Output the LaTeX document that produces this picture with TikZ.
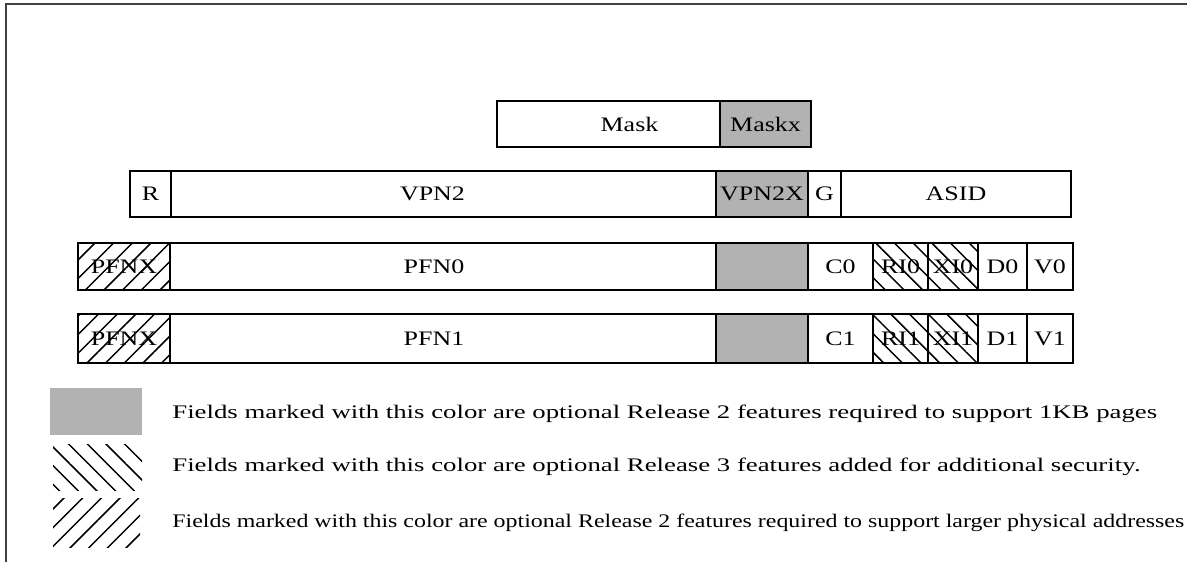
\documentclass[tikz,border=0pt]{standalone}
\usepackage{fontspec}
\setmainfont{Liberation Serif}
\newfontfamily\fieldfont[FakeStretch=1.26]{Liberation Serif}
\newfontfamily\notefont[FakeStretch=1.395]{Liberation Serif}
\newfontfamily\notefontnarrow[FakeStretch=1.245]{Liberation Serif}
\usetikzlibrary{patterns.meta}

\tikzset{
  w/.style={minimum width=#1*0.5pt},
  h/.style={minimum height=#1*0.5pt},
  field/.style={draw, line width=0.7pt, inner sep=0pt, outer sep=0pt, font=\fieldfont\fontsize{10.3}{12}\selectfont},
  opt/.style={fill=black!30},
  secure/.style={pattern={Lines[angle=-45,distance=6.6pt,line width=0.75pt]}},
  wide/.style={pattern={Lines[angle=45,distance=6.6pt,line width=0.75pt]}},
  note/.style={anchor=west, inner sep=0pt, font=\notefont\fontsize{9.6}{12}\selectfont},
}

\begin{document}
\begin{tikzpicture}[x=0.5pt,y=-0.5pt]
\useasboundingbox (0,0) rectangle (1187,562);
\draw[line width=1.1pt, black!75] (6,562) -- (6,4) -- (1187,4);

% PageMask
\node[field, w=223, h=46] (mask) at (608.5,124) {\hspace*{21pt}Mask};
\node[field, opt, w=91, h=46] (maskx) at (765.5,124) {Maskx};

% EntryHi
\node[field, w=41, h=46] (r) at (150.5,194) {R};
\node[field, w=545, h=46] (vpn2) at (443.5,194) {VPN2\hspace*{11pt}};
\node[field, opt, w=92, h=46] (vpn2x) at (762,194) {VPN2X};
\node[field, w=33, h=46] (g) at (824.5,194) {G};
\node[field, w=230, h=46] (asid) at (956,194) {ASID};

% EntryLo0
\node[field, wide, w=92, h=47] (pfnx0) at (124,266.5) {PFNX};
\node[field, w=546, h=47] (pfn0) at (443,266.5) {PFN0\hspace*{9pt}};
\node[field, opt, w=92, h=47] (pfnopt0) at (762,266.5) {};
\node[field, w=65, h=47] (c0) at (840.5,266.5) {C0};
\node[field, secure, w=55, h=47] (ri0) at (900.5,266.5) {RI0};
\node[field, secure, w=50, h=47] (xi0) at (953,266.5) {XI0};
\node[field, w=49, h=47] (d0) at (1002.5,266.5) {D0};
\node[field, w=46, h=47] (v0) at (1050,266.5) {V0};

% EntryLo1
\node[field, wide, w=92, h=49] (pfnx1) at (124,338.5) {PFNX};
\node[field, w=546, h=49] (pfn1) at (443,338.5) {PFN1\hspace*{9pt}};
\node[field, opt, w=92, h=49] (pfnopt1) at (762,338.5) {};
\node[field, w=65, h=49] (c1) at (840.5,338.5) {C1};
\node[field, secure, w=55, h=49] (ri1) at (900.5,338.5) {RI1};
\node[field, secure, w=50, h=49] (xi1) at (953,338.5) {XI1};
\node[field, w=49, h=49] (d1) at (1002.5,338.5) {D1};
\node[field, w=46, h=49] (v1) at (1050,338.5) {V1};

% legend
\node[opt, inner sep=0pt, w=92, h=47] (keyopt) at (96,411.5) {};
\node[secure, inner sep=0pt, w=89, h=46] (keysecure) at (97.5,467) {};
\node[wide, inner sep=0pt, w=87, h=49] (keywide) at (96.5,522.5) {};
\node[note] (noteopt) at (172,414) {Fields marked with this color are optional Release 2 features required to support 1KB pages};
\node[note] (notesecure) at (172,467) {Fields marked with this color are optional Release 3 features added for additional security.};
\node[note, font=\notefontnarrow\fontsize{9.6}{12}\selectfont] (notewide) at (172,523) {Fields marked with this color are optional Release 2 features required to support larger physical addresses};
\end{tikzpicture}
\end{document}
